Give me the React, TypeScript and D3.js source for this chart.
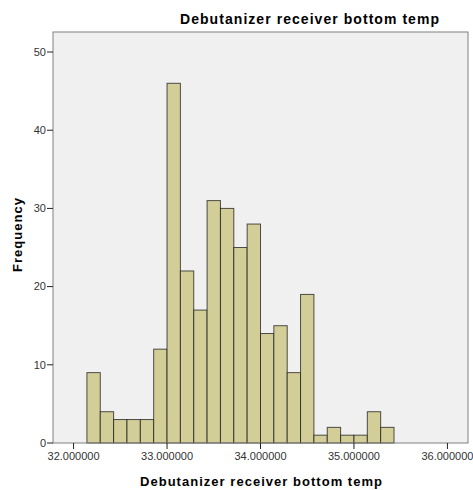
import React from "react";
import * as d3 from "d3";

const title = "Debutanizer receiver bottom temp";
const xLabel = "Debutanizer receiver bottom temp";
const yLabel = "Frequency";
const binStart = 32 + 1 / 7;
const binWidth = 1 / 7;
const counts = [9, 4, 3, 3, 3, 12, 46, 22, 17, 31, 30, 25, 28, 14, 15, 9, 19, 1, 2, 1, 1, 4, 2];
const xTicks = [32, 33, 34, 35, 36];
const yTicks = [0, 10, 20, 30, 40, 50];

const W = 473;
const H = 490;
const plot = { left: 53, top: 32, right: 468, bottom: 443 };

export default function App() {
  const x = d3.scaleLinear().domain([31.78, 36.22]).range([plot.left, plot.right]);
  const y = d3.scaleLinear().domain([0, 52.56]).range([plot.bottom, plot.top]);
  const bins = counts.map((c, i) => ({
    x0: binStart + i * binWidth,
    x1: binStart + (i + 1) * binWidth,
    c,
  }));
  const font = "'Liberation Sans', Arial, sans-serif";
  return (
    <svg
      width={W}
      height={H}
      style={{ position: "absolute", left: 0, top: 0, background: "#fff" }}
      fontFamily={font}
    >
      <rect x={0} y={0} width={W} height={H} fill="#fff" />
      <rect
        x={plot.left}
        y={plot.top}
        width={plot.right - plot.left}
        height={plot.bottom - plot.top}
        fill="#f0f0f0"
      />
      {bins.map((b, i) => (
        <rect
          key={i}
          x={x(b.x0)}
          y={y(b.c)}
          width={x(b.x1) - x(b.x0)}
          height={y(0) - y(b.c)}
          fill="#d3ce97"
          stroke="#1a1a1a"
          strokeOpacity={0.75}
          strokeWidth={1}
        />
      ))}
      <rect
        x={plot.left}
        y={plot.top}
        width={plot.right - plot.left}
        height={plot.bottom - plot.top}
        fill="none"
        stroke="#808080"
        strokeWidth={1}
      />
      {yTicks.map((t) => (
        <g key={"y" + t}>
          <line x1={plot.left - 6} x2={plot.left} y1={y(t)} y2={y(t)} stroke="#222" />
          <text
            x={plot.left - 7}
            y={y(t)}
            dy="0.35em"
            textAnchor="end"
            fontSize={11}
            fill="#333"
          >
            {t}
          </text>
        </g>
      ))}
      {xTicks.map((t) => (
        <g key={"x" + t}>
          <line x1={x(t)} x2={x(t)} y1={plot.bottom} y2={plot.bottom + 6} stroke="#222" />
          <text x={x(t)} y={plot.bottom + 17} textAnchor="middle" fontSize={11} fill="#333">
            {d3.format(".6f")(t)}
          </text>
        </g>
      ))}
      <text
        x={180}
        y={24}
        fontSize={14}
        fontWeight="bold"
        fill="#000"
        textLength={259}
        lengthAdjust="spacing"
      >
        {title}
      </text>
      <text
        x={140}
        y={486}
        fontSize={13}
        fontWeight="bold"
        fill="#000"
        textLength={242}
        lengthAdjust="spacing"
      >
        {xLabel}
      </text>
      <text
        transform={`translate(22, 235) rotate(-90)`}
        textAnchor="middle"
        fontSize={13}
        fontWeight="bold"
        fill="#000"
        textLength={74}
        lengthAdjust="spacing"
      >
        {yLabel}
      </text>
    </svg>
  );
}
